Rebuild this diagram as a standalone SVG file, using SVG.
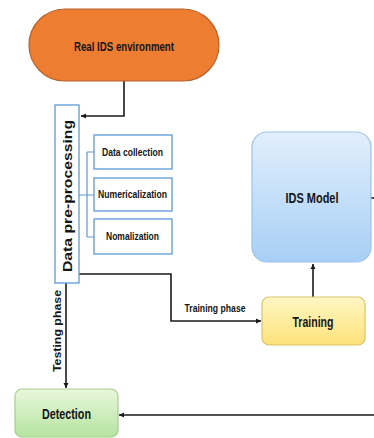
<svg xmlns="http://www.w3.org/2000/svg" width="374" height="438" viewBox="0 0 374 438">
<defs>
<linearGradient id="gBlue" x1="0" y1="0" x2="0" y2="1"><stop offset="0" stop-color="#e2effc"/><stop offset="1" stop-color="#a7cff5"/></linearGradient>
<linearGradient id="gYellow" x1="0" y1="0" x2="0" y2="1"><stop offset="0" stop-color="#fff7c4"/><stop offset="1" stop-color="#fde27a"/></linearGradient>
<linearGradient id="gGreen" x1="0" y1="0" x2="0" y2="1"><stop offset="0" stop-color="#e8f7dc"/><stop offset="1" stop-color="#b5e4a0"/></linearGradient>
<marker id="arr" markerWidth="6" markerHeight="6" refX="5" refY="3" orient="auto" markerUnits="userSpaceOnUse"><path d="M0,0.5 L5,3 L0,5.5 Z" fill="#1a1a1a"/></marker>
<style>
.t{font-family:"Liberation Sans Narrow","Liberation Sans",Arial,sans-serif;font-weight:bold;fill:#151515;text-anchor:middle}
.w{font-family:"Liberation Sans",Arial,sans-serif;font-weight:bold;fill:#151515;text-anchor:middle}
.c{fill:none;stroke:#1a1a1a;stroke-width:1.6}
.b{fill:none;stroke:#5b9bd5;stroke-width:1.2}
.box{fill:#ffffff;stroke:#5b9bd5;stroke-width:1.3}
</style>
</defs>
<rect width="374" height="438" fill="#ffffff"/>
<g id="connectors">
<path class="c" d="M124,81 V116 H81" marker-end="url(#arr)"/>
<path class="c" d="M79,274 H171 V321 H261" marker-end="url(#arr)"/>
<path class="c" d="M313,297 V264" marker-end="url(#arr)"/>
<path class="c" d="M371,198 H374"/>
<path class="c" d="M374,415 H119" marker-end="url(#arr)"/>
<path class="c" d="M66,283 V388" marker-end="url(#arr)"/>
<path class="b" d="M79,195 H87 M87,152 V237 M87,152 H94 M87,195 H94 M87,237 H94"/>
<text class="t" x="215" y="312" font-size="11.5" textLength="61" lengthAdjust="spacingAndGlyphs">Training phase</text>
<text class="w" transform="translate(61,331) rotate(-90)" font-size="11" textLength="82" lengthAdjust="spacingAndGlyphs">Testing phase</text>
</g>
<g id="real-ids">
<rect x="29" y="9" width="190" height="72" rx="36" ry="36" fill="#ed7d31" stroke="#b5612a" stroke-width="1.2"/>
<text class="t" x="124" y="50.5" font-size="12.5" textLength="100" lengthAdjust="spacingAndGlyphs">Real IDS environment</text>
</g>
<g id="data-preprocessing">
<rect class="box" x="55" y="105" width="24" height="178"/>
<text class="w" transform="translate(72,196) rotate(-90)" font-size="13.5" textLength="152" lengthAdjust="spacingAndGlyphs">Data pre-processing</text>
</g>
<g id="data-collection">
<rect class="box" x="94" y="135" width="78" height="34"/>
<text class="t" x="132.5" y="156" font-size="11.5" textLength="61" lengthAdjust="spacingAndGlyphs">Data collection</text>
</g>
<g id="numericalization">
<rect class="box" x="94" y="178" width="78" height="33"/>
<text class="t" x="132.5" y="198" font-size="11.5" textLength="69" lengthAdjust="spacingAndGlyphs">Numericalization</text>
</g>
<g id="nomalization">
<rect class="box" x="94" y="219" width="78" height="35"/>
<text class="t" x="132.5" y="240" font-size="11.5" textLength="53" lengthAdjust="spacingAndGlyphs">Nomalization</text>
</g>
<g id="ids-model">
<rect x="252" y="132" width="119" height="130" rx="15" ry="15" fill="url(#gBlue)" stroke="#9cc3e8" stroke-width="1.2"/>
<text class="t" x="312" y="203" font-size="14" textLength="53" lengthAdjust="spacingAndGlyphs">IDS Model</text>
</g>
<g id="training">
<rect x="262" y="297" width="103" height="48" rx="7" ry="7" fill="url(#gYellow)" stroke="#dcc36a" stroke-width="1.2"/>
<text class="t" x="313" y="327" font-size="14.5" textLength="41" lengthAdjust="spacingAndGlyphs">Training</text>
</g>
<g id="detection">
<rect x="15" y="389" width="103" height="48" rx="7" ry="7" fill="url(#gGreen)" stroke="#a3cf8c" stroke-width="1.2"/>
<text class="t" x="66.5" y="419" font-size="14.5" textLength="49" lengthAdjust="spacingAndGlyphs">Detection</text>
</g>
</svg>
